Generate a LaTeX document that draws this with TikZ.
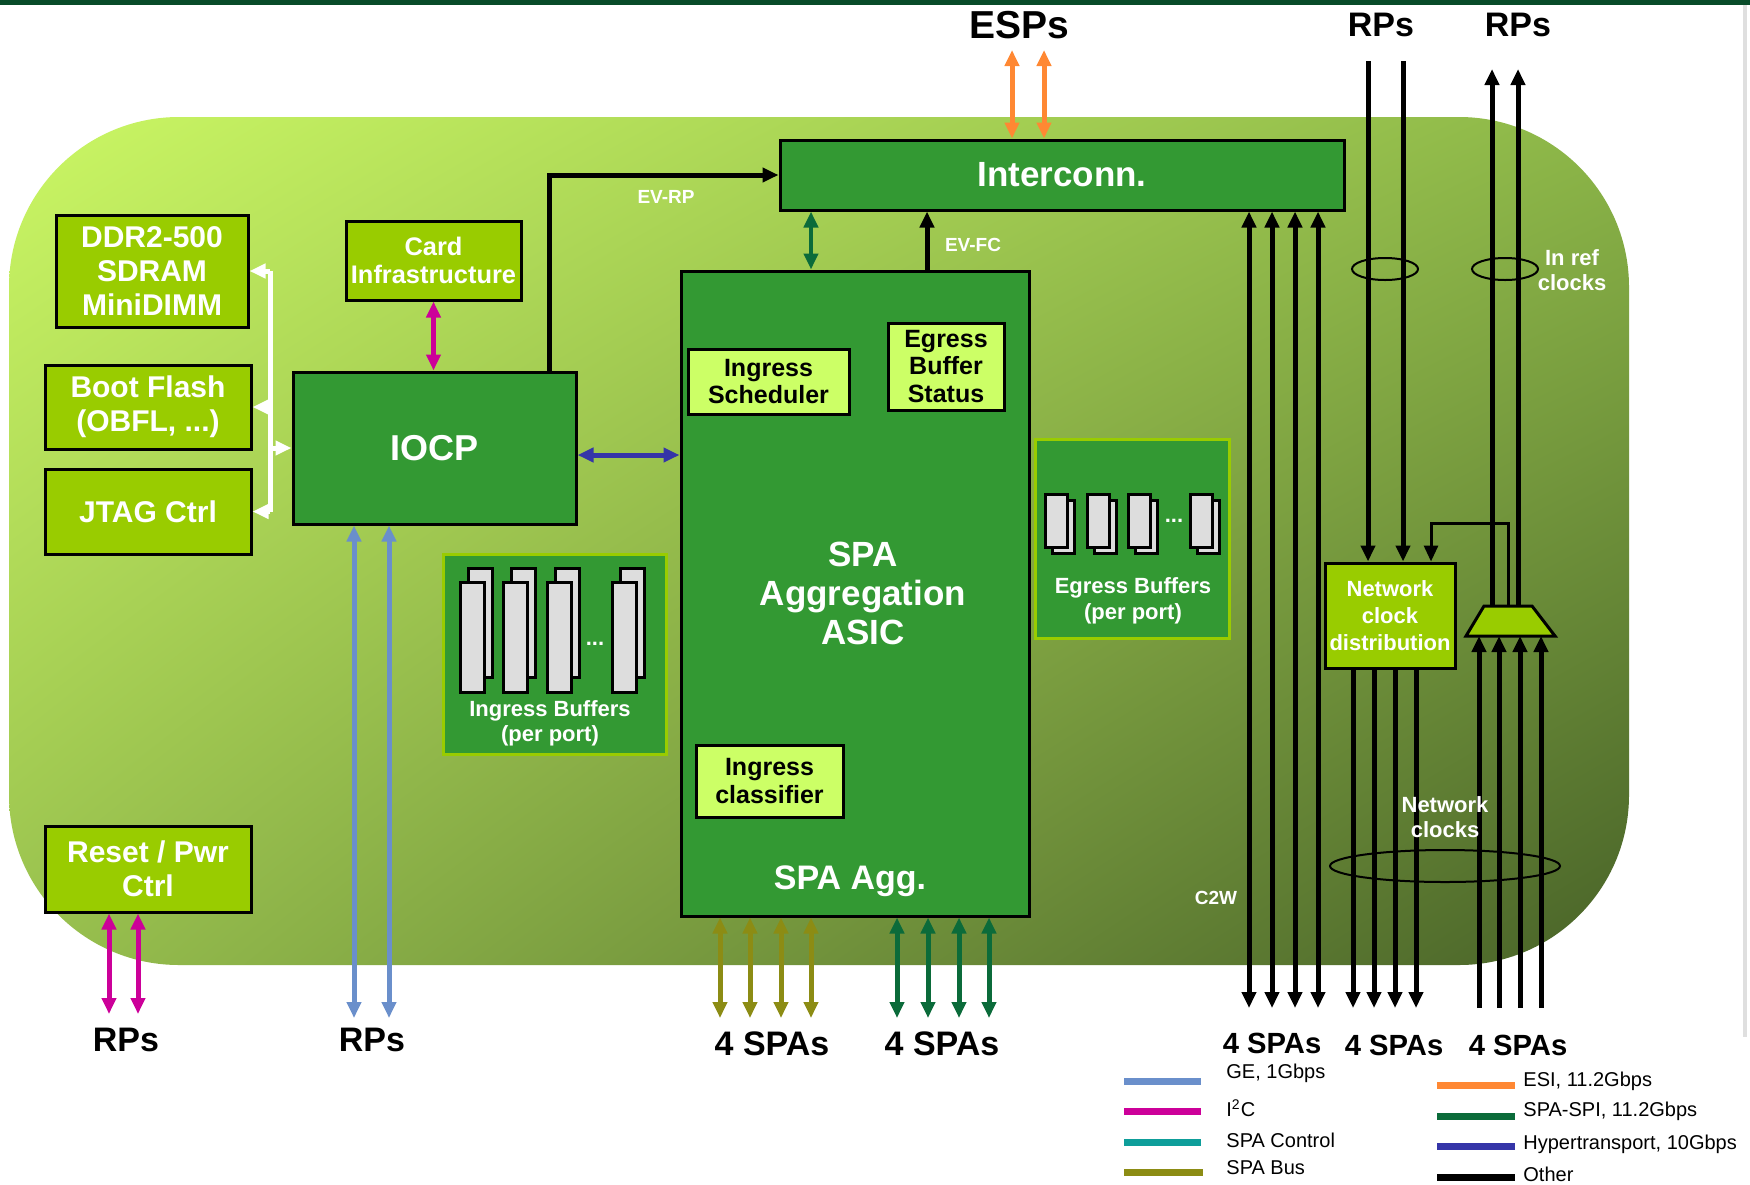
\documentclass[tikz,border=0pt]{standalone}
\usepackage{fontspec}
\setmainfont{Liberation Sans}
\usetikzlibrary{arrows.meta,positioning,shadings}

\definecolor{cLime}{HTML}{99CC00}
\definecolor{cGreen}{HTML}{339933}
\definecolor{cPale}{HTML}{CCFF66}
\definecolor{cBufGray}{HTML}{DDDDDD}
\definecolor{cGE}{HTML}{6A8FCB}
\definecolor{cI2C}{HTML}{CC0099}
\definecolor{cCtrl}{HTML}{0E9E9A}
\definecolor{cBus}{HTML}{8C8C14}
\definecolor{cESI}{HTML}{FF8833}
\definecolor{cSPI}{HTML}{0B6B3A}
\definecolor{cHT}{HTML}{3535A8}
\definecolor{bgUL}{RGB}{203,247,100}
\definecolor{bgUR}{RGB}{140,182,72}
\definecolor{bgLL}{RGB}{152,192,78}
\definecolor{bgLR}{RGB}{72,98,40}

\begin{document}
\begin{tikzpicture}[x=0.5pt, y=-0.5pt,
  >={Triangle[width=7pt,length=8pt]},
  wire/.style={line width=2.5pt},
  thinwire/.style={line width=1.5pt},
  limebox/.style={draw=black, line width=1.5pt, fill=cLime, text=white, align=center, inner sep=0pt, font=\bfseries\fontsize{15}{17}\selectfont},
  greenbox/.style={draw=black, line width=1.5pt, fill=cGreen, text=white, align=center, inner sep=0pt},
  palebox/.style={draw=black, line width=1.5pt, fill=cPale, text=black, align=center, inner sep=0pt, font=\bfseries\fontsize{12.5}{13.8}\selectfont},
  bufbox/.style={draw=cLime, line width=1.5pt, fill=cGreen, inner sep=0pt},
  buf/.style={draw=black, line width=1.5pt, fill=cBufGray},
  endlabel/.style={text=black, inner sep=0pt, font=\bfseries\fontsize{17}{19}\selectfont},
  smalllabel/.style={text=white, inner sep=0pt, align=center, font=\bfseries\fontsize{9.5}{11}\selectfont},
  whitelabel/.style={text=white, inner sep=0pt, align=center, font=\bfseries\fontsize{11}{12.5}\selectfont},
  legend/.style={text=black, anchor=west, inner sep=0pt, font=\fontsize{10}{12}\selectfont},
  legline/.style={line width=3.5pt}]

\useasboundingbox (0,0) rectangle (1750,1184);
\fill[white] (0,0) rectangle (1750,1184);

% Slide edge
\fill[cSPI!70!black] (0,0) rectangle (1750,5);
\draw[gray!25, line width=2pt] (1745,5) -- (1745,1037);

% Board
\shade[upper left=bgUL, upper right=bgUR, lower left=bgLL, lower right=bgLR,
  rounded corners=85pt] (9,117) rectangle (1629,965);

% Free ends of the wires
\coordinate (espEnd) at (1028,50);
\coordinate (rpTopA) at (1385,61);
\coordinate (rpTopB) at (1505,69);
\coordinate (botEnd) at (1400,1008);
\coordinate (lowEnd) at (800,1018);
\coordinate (resetEnd) at (124,1014);
\coordinate (muxTop) at (1508,606);
\coordinate (muxBot) at (1510,636);
\coordinate (fbTurn) at (1431,523);

% Left column
\node[limebox, minimum width=96pt, minimum height=56pt] (ddr) at (152,271) {DDR2-500\\SDRAM\\MiniDIMM};
\node[limebox, minimum width=103pt, minimum height=42pt] (boot) at (148,407) {Boot Flash\\(OBFL, ...)};
\node[limebox, minimum width=103pt, minimum height=42.5pt] (jtag) at (148,511.5) {JTAG Ctrl};
\node[limebox, minimum width=103pt, minimum height=43pt] (reset) at (148,869) {Reset / Pwr\\Ctrl};
\node[limebox, minimum width=87.5pt, minimum height=39.5pt, font=\bfseries\fontsize{12.7}{14}\selectfont] (card) at (433.5,260.5) {Card\\Infrastructure};

% Main blocks
\node[greenbox, minimum width=141.5pt, minimum height=76pt, font=\bfseries\fontsize{18}{20}\selectfont] (iocp) at (434.5,448) {IOCP};
\node[greenbox, minimum width=282pt, minimum height=35pt, font=\bfseries\fontsize{17.5}{20}\selectfont] (intc) at (1062,175) {Interconn.};
\node[greenbox, minimum width=174pt, minimum height=322.5pt] (spa) at (855,593.5) {};
\node[text=white, align=center, inner sep=0pt, font=\bfseries\fontsize{17.5}{19.5}\selectfont] (spaname) at (863,593) {SPA\\Aggregation\\ASIC};
\node[text=white, inner sep=0pt, font=\bfseries\fontsize{17}{19}\selectfont] (spaagg) at (850,881) {SPA Agg.};
\node[palebox, minimum width=80.5pt, minimum height=32.5pt] (isched) at (768.5,381.5) {Ingress\\Scheduler};
\node[palebox, minimum width=58pt, minimum height=43.5pt] (ebs) at (946,366.5) {Egress\\Buffer\\Status};
\node[palebox, minimum width=73.5pt, minimum height=36pt] (icls) at (769.5,781) {Ingress\\classifier};

% Ingress buffers
\node[bufbox, minimum width=111.5pt, minimum height=100pt] (ibuf) at (554.5,654) {};
\foreach \x in {460,503,547,612} {
  \draw[buf] (\x+8,568) rectangle (\x+32,677);
  \draw[buf] (\x,582) rectangle (\x+24,692);
}
\node[whitelabel] (idots) at (595,644) {...};
\node[whitelabel, font=\bfseries\fontsize{11}{12.5}\selectfont] (ibuftxt) at (550,723) {Ingress Buffers\\(per port)};

% Egress buffers
\node[bufbox, minimum width=97pt, minimum height=99.5pt] (ebuf) at (1132,538.5) {};
\foreach \x in {1045,1087,1128,1190} {
  \draw[buf] (\x+7,500) rectangle (\x+29,553);
  \draw[buf] (\x,494) rectangle (\x+22,547);
}
\node[whitelabel] (edots) at (1174,521) {...};
\node[whitelabel, font=\bfseries\fontsize{11}{13}\selectfont] (ebuftxt) at (1133,601) {Egress Buffers\\(per port)};

% Clocking
\node[limebox, minimum width=65pt, minimum height=52.5pt, font=\bfseries\fontsize{11}{13.5}\selectfont] (ncd) at (1390,615.5) {Network\\clock\\distribution};
\draw[fill=cLime, line width=1.5pt] (1466,636) -- (1484,606) -- (1532,606) -- (1555,636) -- cycle;

% Outside ends
\node[endlabel, font=\bfseries\fontsize{19.5}{22}\selectfont] (esps) at (1019,25) {ESPs};
\node[endlabel] (rpsA) at (1381,25) {RPs};
\node[endlabel] (rpsB) at (1518,25) {RPs};
\node[endlabel] (rpsReset) at (126,1040) {RPs};
\node[endlabel] (rpsGE) at (372,1040) {RPs};
\node[endlabel] (spasBus) at (772,1044) {4 SPAs};
\node[endlabel] (spasSPI) at (942,1044) {4 SPAs};
\node[endlabel, font=\bfseries\fontsize{14.6}{17}\selectfont] (spasC2W) at (1272,1043) {4 SPAs};
\node[endlabel, font=\bfseries\fontsize{14.6}{17}\selectfont] (spasNCD) at (1394,1045) {4 SPAs};
\node[endlabel, font=\bfseries\fontsize{14.6}{17}\selectfont] (spasMux) at (1518,1045) {4 SPAs};

% ESI
\foreach \x in {1012,1044}
  \draw[<->, wire, cESI] (\x,0 |- espEnd) -- (\x,0 |- intc.north);

% Ref clocks and network clocks
\foreach \x in {1368,1403}
  \draw[->, wire] (\x,0 |- rpTopA) -- (\x,0 |- ncd.north);
\foreach \x in {1492,1518}
  \draw[->, wire] (\x,0 |- muxTop) -- (\x,0 |- rpTopB);
\draw[->, thinwire] (muxTop) |- (fbTurn) -- (fbTurn |- ncd.north);
\foreach \x in {1479,1499,1520,1541}
  \draw[->, wire] (\x,0 |- botEnd) -- (\x,0 |- muxBot);
\foreach \x in {1353,1374,1395,1416}
  \draw[->, wire] (\x,0 |- ncd.south) -- (\x,0 |- botEnd);

% C2W
\foreach \x in {1249,1272,1295,1318}
  \draw[<->, wire] (\x,0 |- intc.south) -- (\x,0 |- botEnd);

\draw[line width=1pt] (1385,269) ellipse [x radius=16.5pt, y radius=5.5pt];
\draw[line width=1pt] (1505,269) ellipse [x radius=16.5pt, y radius=5.5pt];
\draw[line width=1pt] (1445,866) ellipse [x radius=57.5pt, y radius=8pt];

% Interconn links
\draw[<->, line width=2pt, cSPI] (811,0 |- intc.south) -- (811,0 |- spa.north);
\draw[->, wire] (927,0 |- spa.north) -- (927,0 |- intc.south);
\draw[->, wire] (549,0 |- iocp.north) |- (intc.west);

% IOCP links
\draw[<->, wire, cI2C] (card.south) -- (card.south |- iocp.north);
\draw[<->, wire, cHT] ([yshift=-3.5pt]iocp.east) -- ([yshift=-3.5pt]iocp.east -| spa.west);
\draw[wire, white] (270,0 |- ddr.east) -- (270,0 |- jtag.east);
\foreach \n in {ddr,boot,jtag}
  \draw[->, wire, white] (270,0 |- \n.east) -- (\n.east);
\draw[->, wire, white] (270,0 |- iocp.west) -- (iocp.west);

% Down to RPs and SPAs
\foreach \x in {109,138}
  \draw[<->, wire, cI2C] (\x,0 |- reset.south) -- (\x,0 |- resetEnd);
\foreach \x in {354,389}
  \draw[<->, wire, cGE] (\x,0 |- iocp.south) -- (\x,0 |- lowEnd);
\foreach \x in {720,750,781,811}
  \draw[<->, wire, cBus] (\x,0 |- spa.south) -- (\x,0 |- lowEnd);
\foreach \x in {897,928,959,989}
  \draw[<->, wire, cSPI] (\x,0 |- spa.south) -- (\x,0 |- lowEnd);

% Wire labels
\node[smalllabel] (evrp) at (666,197) {EV-RP};
\node[smalllabel] (evfc) at (973,245) {EV-FC};
\node[smalllabel] (c2w) at (1216,898) {C2W};
\node[whitelabel] (inref) at (1572,270) {In ref\\clocks};
\node[whitelabel] (netclk) at (1445,817) {Network\\clocks};

% Legend
\draw[legline, cGE] (1124,1081) -- (1201,1081);
\node[legend] (lgGE) at (1226,1073) {GE, 1Gbps};
\draw[legline, cI2C] (1124,1111) -- (1201,1111);
\node[legend] (lgI2C) at (1226,1108) {I\textsuperscript{2}C};
\draw[legline, cCtrl] (1124,1142) -- (1201,1142);
\node[legend] (lgCtrl) at (1226,1140) {SPA Control};
\draw[legline, cBus] (1124,1172) -- (1203,1172);
\node[legend] (lgBus) at (1226,1168) {SPA Bus};
\draw[legline, cESI] (1437,1085) -- (1515,1085);
\node[legend] (lgESI) at (1523,1081) {ESI, 11.2Gbps};
\draw[legline, cSPI] (1437,1116) -- (1515,1116);
\node[legend] (lgSPI) at (1523,1111) {SPA-SPI, 11.2Gbps};
\draw[legline, cHT] (1437,1146) -- (1515,1146);
\node[legend] (lgHT) at (1523,1144) {Hypertransport, 10Gbps};
\draw[legline] (1437,1177) -- (1515,1177);
\node[legend] (lgOther) at (1523,1174) {Other};
\end{tikzpicture}
\end{document}
